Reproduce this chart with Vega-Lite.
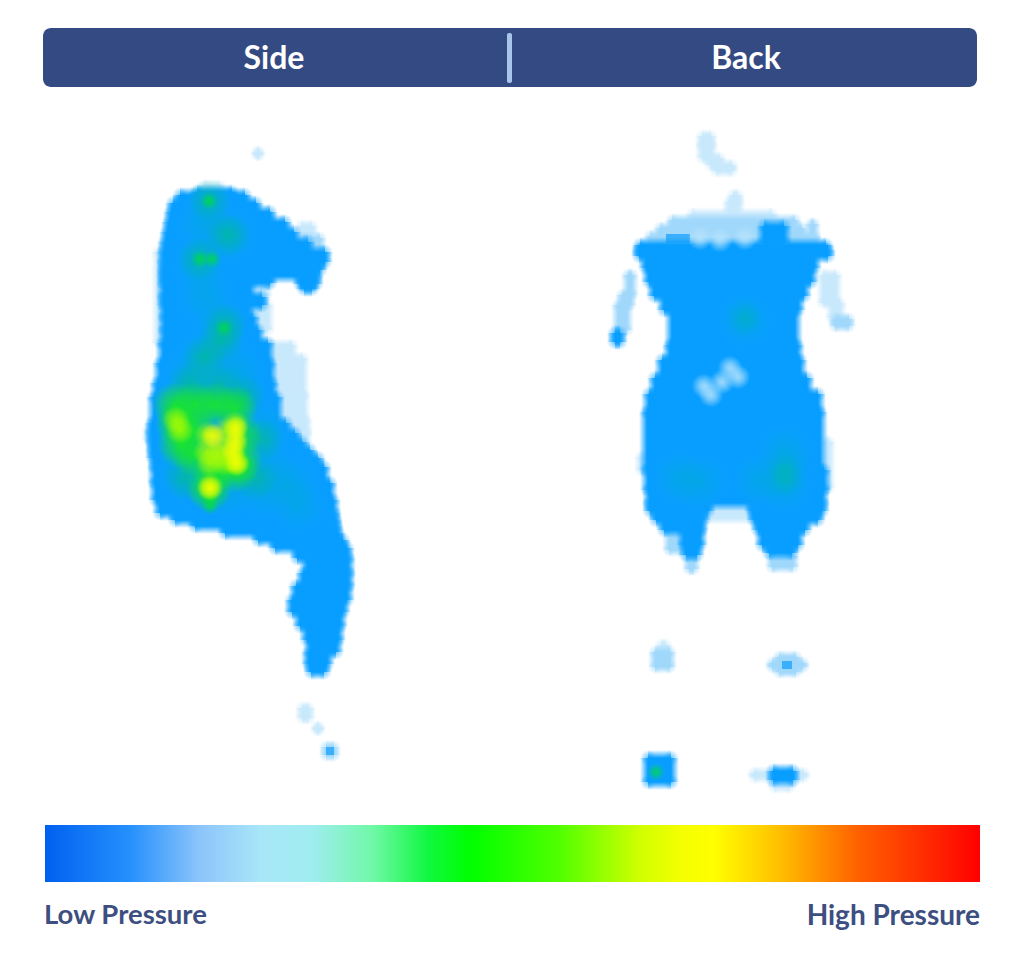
{"$schema":"https://vega.github.io/schema/vega-lite/v6.json","width":1024,"height":969,"padding":0,"autosize":{"type":"fit","contains":"padding"},"background":"white","config":{"view":{"stroke":null}},
"datasets":{
"pale":[
{"a":702,"b":711,"y":136,"z":145,"v":1.7},{"a":702,"b":711,"y":145,"z":158,"v":1.7},{"a":710,"b":720,"y":158,"z":165,"v":1.7},{"a":716,"b":732,"y":165,"z":171,"v":1.7},
{"a":733,"b":738,"y":195,"z":202,"v":1.5},{"a":729,"b":738,"y":202,"z":212,"v":1.5},
{"a":692,"b":772,"y":214,"z":220,"v":1.8},{"a":672,"b":795,"y":220,"z":228,"v":2},{"a":660,"b":802,"y":228,"z":236,"v":2},{"a":650,"b":815,"y":236,"z":245,"v":2},
{"a":811,"b":814,"y":224,"z":240,"v":2.2},
{"a":628,"b":632,"y":275,"z":295,"v":2},{"a":622,"b":630,"y":295,"z":305,"v":2},{"a":618,"b":627,"y":305,"z":330,"v":2.2},
{"a":823,"b":836,"y":275,"z":303,"v":1.8},{"a":832,"b":840,"y":303,"z":318,"v":1.8},{"a":835,"b":849,"y":319,"z":326,"v":2},
{"a":260,"b":266,"y":285,"z":296,"v":1.8},{"a":252,"b":268,"y":305,"z":330,"v":1.7},{"a":270,"b":292,"y":345,"z":358,"v":1.6},{"a":270,"b":303,"y":358,"z":395,"v":1.6},{"a":277,"b":304,"y":395,"z":420,"v":1.6},{"a":280,"b":306,"y":420,"z":432,"v":1.6},{"a":287,"b":306,"y":432,"z":443,"v":1.5},
{"a":303,"b":320,"y":238,"z":250,"v":2.2},{"a":148,"b":150,"y":430,"z":440,"v":1.6},{"a":158,"b":161,"y":252,"z":343,"v":1.5},
{"a":302,"b":309,"y":708,"z":718,"v":1.4},{"a":317,"b":319,"y":727,"z":730,"v":1.4},{"a":257,"b":259,"y":152,"z":155,"v":1.4},{"a":204,"b":220,"y":186,"z":190,"v":1.8},
{"a":641,"b":643,"y":457,"z":470,"v":1.5},{"a":826,"b":829,"y":442,"z":488,"v":1.8},{"a":708,"b":752,"y":507,"z":518,"v":1.8},
{"a":669,"b":682,"y":527,"z":550,"v":2},{"a":655,"b":670,"y":652,"z":667,"v":2},{"a":661,"b":666,"y":645,"z":652,"v":1.8},
{"a":779,"b":796,"y":657,"z":672,"v":2},{"a":772,"b":803,"y":663,"z":667,"v":2},{"a":754,"b":804,"y":773,"z":777,"v":1.8},{"a":774,"b":790,"y":782,"z":787,"v":1.8},
{"a":689,"b":694,"y":558,"z":569,"v":2},{"a":772,"b":793,"y":556,"z":567,"v":2},
{"a":666,"b":690,"y":234,"z":243,"v":3},{"a":782,"b":792,"y":661,"z":669,"v":3},{"a":326,"b":334,"y":747,"z":755,"v":3},{"a":301,"b":312,"y":226,"z":234,"v":1.8}
],
"core":[
{"a":197,"b":232,"y":192,"z":195},{"a":180,"b":245,"y":195,"z":203},{"a":173,"b":256,"y":203,"z":212},{"a":171,"b":270,"y":212,"z":222},{"a":169,"b":285,"y":222,"z":232},{"a":167,"b":294,"y":232,"z":242},{"a":165,"b":308,"y":242,"z":252},{"a":164,"b":325,"y":252,"z":262},{"a":164,"b":320,"y":262,"z":270},{"a":164,"b":315,"y":270,"z":276},{"a":164,"b":270,"y":276,"z":283},{"a":300,"b":316,"y":276,"z":284},{"a":164,"b":250,"y":283,"z":297},{"a":304,"b":312,"y":284,"z":289},{"a":164,"b":262,"y":297,"z":305},{"a":165,"b":248,"y":305,"z":317},{"a":165,"b":253,"y":317,"z":330},{"a":165,"b":258,"y":330,"z":343},{"a":163,"b":268,"y":343,"z":363},{"a":160,"b":270,"y":363,"z":383},{"a":157,"b":272,"y":383,"z":397},{"a":154,"b":277,"y":397,"z":423},{"a":152,"b":286,"y":423,"z":433},{"a":152,"b":295,"y":433,"z":442},{"a":153,"b":302,"y":442,"z":450},{"a":153,"b":310,"y":450,"z":458},{"a":155,"b":318,"y":458,"z":467},{"a":155,"b":324,"y":467,"z":483},{"a":156,"b":330,"y":483,"z":500},{"a":160,"b":333,"y":500,"z":513},{"a":175,"b":334,"y":513,"z":520},{"a":195,"b":335,"y":520,"z":526},{"a":225,"b":336,"y":526,"z":533},{"a":258,"b":338,"y":533,"z":540},{"a":275,"b":343,"y":540,"z":548},{"a":297,"b":347,"y":548,"z":558},{"a":307,"b":348,"y":558,"z":573},{"a":303,"b":348,"y":573,"z":586},{"a":296,"b":347,"y":586,"z":600},{"a":292,"b":343,"y":600,"z":612},{"a":300,"b":340,"y":612,"z":626},{"a":307,"b":338,"y":626,"z":640},{"a":311,"b":336,"y":640,"z":652},{"a":309,"b":327,"y":652,"z":664},{"a":311,"b":324,"y":664,"z":672},
{"a":764,"b":784,"y":226,"z":243},
{"a":640,"b":826,"y":245,"z":250},{"a":639,"b":828,"y":250,"z":256},{"a":646,"b":814,"y":256,"z":268},{"a":649,"b":811,"y":268,"z":282},{"a":654,"b":804,"y":282,"z":296},{"a":664,"b":798,"y":296,"z":310},{"a":672,"b":795,"y":310,"z":345},{"a":670,"b":797,"y":345,"z":360},{"a":662,"b":800,"y":360,"z":378},{"a":655,"b":807,"y":378,"z":394},{"a":649,"b":818,"y":394,"z":412},{"a":647,"b":820,"y":412,"z":470},{"a":648,"b":824,"y":470,"z":490},{"a":650,"b":822,"y":490,"z":503},{"a":650,"b":708,"y":503,"z":511},{"a":752,"b":822,"y":503,"z":511},{"a":656,"b":703,"y":511,"z":520},{"a":754,"b":818,"y":511,"z":520},{"a":664,"b":701,"y":520,"z":530},{"a":758,"b":805,"y":520,"z":530},{"a":684,"b":700,"y":530,"z":545},{"a":762,"b":798,"y":530,"z":545},{"a":686,"b":697,"y":545,"z":555},{"a":769,"b":792,"y":545,"z":553},
{"a":615,"b":620,"y":333,"z":342},{"a":648,"b":671,"y":758,"z":782},{"a":773,"b":793,"y":771,"z":780}
],
"blobs":[
{"x":205,"y":225,"l":1},{"x":230,"y":235,"l":1},{"x":200,"y":265,"l":1},{"x":205,"y":295,"l":1},{"x":220,"y":325,"l":1},{"x":205,"y":355,"l":1},{"x":190,"y":375,"l":1},{"x":235,"y":370,"l":1},{"x":262,"y":430,"l":1},{"x":270,"y":470,"l":1},{"x":290,"y":485,"l":1},{"x":265,"y":490,"l":1},{"x":298,"y":505,"l":1},{"x":230,"y":490,"l":1},{"x":195,"y":480,"l":1},{"x":185,"y":465,"l":1},{"x":200,"y":385,"l":1},{"x":240,"y":392,"l":1},{"x":745,"y":320,"l":1},{"x":785,"y":485,"l":1},{"x":785,"y":452,"l":1},{"x":785,"y":470,"l":1},{"x":700,"y":482,"l":1},{"x":680,"y":478,"l":1},{"x":760,"y":480,"l":1},
{"x":209,"y":201,"l":2},{"x":200,"y":259,"l":2},{"x":228,"y":235,"l":2},{"x":225,"y":325,"l":2},{"x":222,"y":340,"l":2},{"x":205,"y":357,"l":2},{"x":190,"y":385,"l":2},{"x":220,"y":385,"l":2},{"x":243,"y":397,"l":2},{"x":185,"y":478,"l":2},{"x":255,"y":478,"l":2},{"x":210,"y":492,"l":2},{"x":178,"y":420,"l":2},{"x":262,"y":440,"l":2},
{"x":209,"y":201,"l":3},{"x":200,"y":259,"l":3},{"x":212,"y":259,"l":3},{"x":224,"y":328,"l":3},{"x":656,"y":772,"l":3},{"x":210,"y":498,"l":3},{"x":210,"y":506,"l":3},{"x":745,"y":318,"l":8},{"x":785,"y":470,"l":8},{"x":785,"y":480,"l":8},
{"x":175,"y":405,"l":4},{"x":195,"y":405,"l":4},{"x":215,"y":405,"l":4},{"x":235,"y":408,"l":4},{"x":178,"y":425,"l":4},{"x":195,"y":430,"l":4},{"x":240,"y":435,"l":4},{"x":240,"y":460,"l":4},{"x":195,"y":455,"l":4},{"x":215,"y":470,"l":4},{"x":235,"y":470,"l":4},{"x":209,"y":488,"l":4},{"x":180,"y":445,"l":4},
{"x":176,"y":420,"l":5},{"x":180,"y":430,"l":5},{"x":208,"y":435,"l":5},{"x":225,"y":432,"l":5},{"x":235,"y":425,"l":5},{"x":207,"y":452,"l":5},{"x":210,"y":463,"l":5},{"x":225,"y":462,"l":5},{"x":236,"y":462,"l":5},{"x":234,"y":446,"l":5},{"x":220,"y":447,"l":5},{"x":218,"y":455,"l":5},{"x":210,"y":487,"l":5},
{"x":236,"y":428,"l":6},{"x":236,"y":440,"l":6},{"x":233,"y":452,"l":6},{"x":237,"y":464,"l":6},{"x":213,"y":436,"l":6},{"x":210,"y":488,"l":6},
{"x":704,"y":386,"l":7},{"x":722,"y":382,"l":7},{"x":738,"y":377,"l":7},{"x":730,"y":368,"l":7},{"x":711,"y":395,"l":7},{"x":700,"y":238,"l":7},{"x":720,"y":240,"l":7},{"x":745,"y":238,"l":7}
],
"bar":[{"a":43,"b":977,"y":28,"z":87}],
"sep":[{"a":507,"b":512,"y":33,"z":83}],
"grad":[{"a":45,"b":980,"y":825,"z":882}],
"head":[{"a":274,"y":59,"t":"Side"},{"a":746,"y":59,"t":"Back"}],
"low":[{"a":44,"y":916,"t":"Low Pressure"}],
"high":[{"a":980,"y":917,"t":"High Pressure"}]
},
"layer":[
{"data":{"name":"bar"},"mark":{"type":"rect","color":"#344a82","cornerRadius":8},"encoding":{"x":{"field":"a","type":"quantitative","axis":null,"scale":{"domain":[0,1024],"range":[0,1024],"nice":false,"zero":false}},"x2":{"field":"b"},"y":{"field":"y","type":"quantitative","axis":null,"scale":{"domain":[0,969],"range":[0,969],"nice":false,"zero":false}},"y2":{"field":"z"}}},
{"data":{"name":"sep"},"mark":{"type":"rect","color":"#a9c6ea","cornerRadius":2},"encoding":{"x":{"field":"a","type":"quantitative"},"x2":{"field":"b"},"y":{"field":"y","type":"quantitative"},"y2":{"field":"z"}}},
{"data":{"name":"grad"},"mark":{"type":"rect","color":{"gradient":"linear","x1":0,"x2":1,"y1":0,"y2":0,"stops":[{"offset":0,"color":"#0060f0"},{"offset":0.09,"color":"#2490fc"},{"offset":0.165,"color":"#8cc4fb"},{"offset":0.23,"color":"#a8e6f8"},{"offset":0.285,"color":"#a0ecf0"},{"offset":0.35,"color":"#70f8a8"},{"offset":0.41,"color":"#10f840"},{"offset":0.455,"color":"#00ff00"},{"offset":0.55,"color":"#50ff00"},{"offset":0.636,"color":"#d0ff00"},{"offset":0.68,"color":"#f4ff00"},{"offset":0.715,"color":"#ffff00"},{"offset":0.785,"color":"#ffc000"},{"offset":0.87,"color":"#ff6000"},{"offset":1,"color":"#ff0000"}]}},"encoding":{"x":{"field":"a","type":"quantitative"},"x2":{"field":"b"},"y":{"field":"y","type":"quantitative"},"y2":{"field":"z"}}},

{"data":{"name":"pale"},"transform":[{"filter":"datum.v<1.9"},{"fold":["a","b"],"as":["k","px"]},{"fold":["y","z"],"as":["k2","py"]}],"mark":{"type":"circle","size":201,"opacity":1,"fill":{"gradient":"radial","x1":0.5,"y1":0.5,"r1":0,"x2":0.5,"y2":0.5,"r2":0.5,"stops":[{"offset":0,"color":"rgba(200,232,252,0.7)"},{"offset":1,"color":"rgba(200,232,252,0)"}]}},"encoding":{"x":{"field":"px","type":"quantitative"},"y":{"field":"py","type":"quantitative"}}},
{"data":{"name":"pale"},"transform":[{"filter":"datum.v<1.9"}],"mark":{"type":"rect","yOffset":-7,"y2Offset":0,"color":{"gradient":"linear","x1":0,"y1":0,"x2":0,"y2":1,"stops":[{"offset":0,"color":"rgba(200,232,252,0)"},{"offset":1,"color":"rgba(200,232,252,1)"}]}},"encoding":{"x":{"field":"a","type":"quantitative"},"x2":{"field":"b"},"y":{"field":"y","type":"quantitative"},"y2":{"field":"y"}}},
{"data":{"name":"pale"},"transform":[{"filter":"datum.v<1.9"}],"mark":{"type":"rect","yOffset":0,"y2Offset":7,"color":{"gradient":"linear","x1":0,"y1":0,"x2":0,"y2":1,"stops":[{"offset":0,"color":"rgba(200,232,252,1)"},{"offset":1,"color":"rgba(200,232,252,0)"}]}},"encoding":{"x":{"field":"a","type":"quantitative"},"x2":{"field":"b"},"y":{"field":"z","type":"quantitative"},"y2":{"field":"z"}}},
{"data":{"name":"pale"},"transform":[{"filter":"datum.v<1.9"}],"mark":{"type":"rect","xOffset":-7,"x2Offset":0,"color":{"gradient":"linear","x1":0,"y1":0,"x2":1,"y2":0,"stops":[{"offset":0,"color":"rgba(200,232,252,0)"},{"offset":1,"color":"rgba(200,232,252,1)"}]}},"encoding":{"x":{"field":"a","type":"quantitative"},"x2":{"field":"a"},"y":{"field":"y","type":"quantitative"},"y2":{"field":"z"}}},
{"data":{"name":"pale"},"transform":[{"filter":"datum.v<1.9"}],"mark":{"type":"rect","xOffset":0,"x2Offset":7,"color":{"gradient":"linear","x1":0,"y1":0,"x2":1,"y2":0,"stops":[{"offset":0,"color":"rgba(200,232,252,1)"},{"offset":1,"color":"rgba(200,232,252,0)"}]}},"encoding":{"x":{"field":"b","type":"quantitative"},"x2":{"field":"b"},"y":{"field":"y","type":"quantitative"},"y2":{"field":"z"}}},
{"data":{"name":"pale"},"transform":[{"filter":"datum.v<1.9"}],"mark":{"type":"rect","color":"#c8e8fc"},"encoding":{"x":{"field":"a","type":"quantitative"},"x2":{"field":"b"},"y":{"field":"y","type":"quantitative"},"y2":{"field":"z"}}},

{"data":{"name":"pale"},"transform":[{"filter":"datum.v>=1.9"},{"fold":["a","b"],"as":["k","px"]},{"fold":["y","z"],"as":["k2","py"]}],"mark":{"type":"circle","size":201,"opacity":1,"fill":{"gradient":"radial","x1":0.5,"y1":0.5,"r1":0,"x2":0.5,"y2":0.5,"r2":0.5,"stops":[{"offset":0,"color":"rgba(160,216,251,0.7)"},{"offset":1,"color":"rgba(160,216,251,0)"}]}},"encoding":{"x":{"field":"px","type":"quantitative"},"y":{"field":"py","type":"quantitative"}}},
{"data":{"name":"pale"},"transform":[{"filter":"datum.v>=1.9"}],"mark":{"type":"rect","yOffset":-7,"y2Offset":0,"color":{"gradient":"linear","x1":0,"y1":0,"x2":0,"y2":1,"stops":[{"offset":0,"color":"rgba(160,216,251,0)"},{"offset":1,"color":"rgba(160,216,251,1)"}]}},"encoding":{"x":{"field":"a","type":"quantitative"},"x2":{"field":"b"},"y":{"field":"y","type":"quantitative"},"y2":{"field":"y"}}},
{"data":{"name":"pale"},"transform":[{"filter":"datum.v>=1.9"}],"mark":{"type":"rect","yOffset":0,"y2Offset":7,"color":{"gradient":"linear","x1":0,"y1":0,"x2":0,"y2":1,"stops":[{"offset":0,"color":"rgba(160,216,251,1)"},{"offset":1,"color":"rgba(160,216,251,0)"}]}},"encoding":{"x":{"field":"a","type":"quantitative"},"x2":{"field":"b"},"y":{"field":"z","type":"quantitative"},"y2":{"field":"z"}}},
{"data":{"name":"pale"},"transform":[{"filter":"datum.v>=1.9"}],"mark":{"type":"rect","xOffset":-7,"x2Offset":0,"color":{"gradient":"linear","x1":0,"y1":0,"x2":1,"y2":0,"stops":[{"offset":0,"color":"rgba(160,216,251,0)"},{"offset":1,"color":"rgba(160,216,251,1)"}]}},"encoding":{"x":{"field":"a","type":"quantitative"},"x2":{"field":"a"},"y":{"field":"y","type":"quantitative"},"y2":{"field":"z"}}},
{"data":{"name":"pale"},"transform":[{"filter":"datum.v>=1.9"}],"mark":{"type":"rect","xOffset":0,"x2Offset":7,"color":{"gradient":"linear","x1":0,"y1":0,"x2":1,"y2":0,"stops":[{"offset":0,"color":"rgba(160,216,251,1)"},{"offset":1,"color":"rgba(160,216,251,0)"}]}},"encoding":{"x":{"field":"b","type":"quantitative"},"x2":{"field":"b"},"y":{"field":"y","type":"quantitative"},"y2":{"field":"z"}}},
{"data":{"name":"pale"},"transform":[{"filter":"datum.v>=1.9 && datum.v<2.8"}],"mark":{"type":"rect","color":"#a0d8fb"},"encoding":{"x":{"field":"a","type":"quantitative"},"x2":{"field":"b"},"y":{"field":"y","type":"quantitative"},"y2":{"field":"z"}}},
{"data":{"name":"pale"},"transform":[{"filter":"datum.v>=2.8"}],"mark":{"type":"rect","color":"#3cafFC"},"encoding":{"x":{"field":"a","type":"quantitative"},"x2":{"field":"b"},"y":{"field":"y","type":"quantitative"},"y2":{"field":"z"}}},

{"data":{"name":"core"},"transform":[{"fold":["a","b"],"as":["k","px"]},{"fold":["y","z"],"as":["k2","py"]}],"mark":{"type":"circle","size":254,"opacity":1,"fill":{"gradient":"radial","x1":0.5,"y1":0.5,"r1":0,"x2":0.5,"y2":0.5,"r2":0.5,"stops":[{"offset":0,"color":"rgba(8,158,255,0.6)"},{"offset":1,"color":"rgba(8,158,255,0)"}]}},"encoding":{"x":{"field":"px","type":"quantitative"},"y":{"field":"py","type":"quantitative"}}},
{"data":{"name":"core"},"mark":{"type":"rect","yOffset":-8,"y2Offset":0,"color":{"gradient":"linear","x1":0,"y1":0,"x2":0,"y2":1,"stops":[{"offset":0,"color":"rgba(8,158,255,0)"},{"offset":1,"color":"rgba(8,158,255,1)"}]}},"encoding":{"x":{"field":"a","type":"quantitative"},"x2":{"field":"b"},"y":{"field":"y","type":"quantitative"},"y2":{"field":"y"}}},
{"data":{"name":"core"},"mark":{"type":"rect","yOffset":0,"y2Offset":8,"color":{"gradient":"linear","x1":0,"y1":0,"x2":0,"y2":1,"stops":[{"offset":0,"color":"rgba(8,158,255,1)"},{"offset":1,"color":"rgba(8,158,255,0)"}]}},"encoding":{"x":{"field":"a","type":"quantitative"},"x2":{"field":"b"},"y":{"field":"z","type":"quantitative"},"y2":{"field":"z"}}},
{"data":{"name":"core"},"mark":{"type":"rect","xOffset":-8,"x2Offset":0,"color":{"gradient":"linear","x1":0,"y1":0,"x2":1,"y2":0,"stops":[{"offset":0,"color":"rgba(8,158,255,0)"},{"offset":1,"color":"rgba(8,158,255,1)"}]}},"encoding":{"x":{"field":"a","type":"quantitative"},"x2":{"field":"a"},"y":{"field":"y","type":"quantitative"},"y2":{"field":"z"}}},
{"data":{"name":"core"},"mark":{"type":"rect","xOffset":0,"x2Offset":8,"color":{"gradient":"linear","x1":0,"y1":0,"x2":1,"y2":0,"stops":[{"offset":0,"color":"rgba(8,158,255,1)"},{"offset":1,"color":"rgba(8,158,255,0)"}]}},"encoding":{"x":{"field":"b","type":"quantitative"},"x2":{"field":"b"},"y":{"field":"y","type":"quantitative"},"y2":{"field":"z"}}},
{"data":{"name":"core"},"mark":{"type":"rect","color":"#089eff"},"encoding":{"x":{"field":"a","type":"quantitative"},"x2":{"field":"b"},"y":{"field":"y","type":"quantitative"},"y2":{"field":"z"}}},

{"data":{"name":"blobs"},"transform":[{"filter":"datum.l==1"}],"mark":{"type":"circle","size":2827,"opacity":1,"fill":{"gradient":"radial","x1":0.5,"y1":0.5,"r1":0,"x2":0.5,"y2":0.5,"r2":0.5,"stops":[{"offset":0,"color":"rgba(0,176,205,0.4)"},{"offset":1,"color":"rgba(0,176,205,0)"}]}},"encoding":{"x":{"field":"x","type":"quantitative"},"y":{"field":"y","type":"quantitative"}}},
{"data":{"name":"blobs"},"transform":[{"filter":"datum.l==8"}],"mark":{"type":"circle","size":1257,"opacity":1,"fill":{"gradient":"radial","x1":0.5,"y1":0.5,"r1":0,"x2":0.5,"y2":0.5,"r2":0.5,"stops":[{"offset":0,"color":"rgba(0,186,160,0.4)"},{"offset":1,"color":"rgba(0,186,160,0)"}]}},"encoding":{"x":{"field":"x","type":"quantitative"},"y":{"field":"y","type":"quantitative"}}},
{"data":{"name":"blobs"},"transform":[{"filter":"datum.l==2"}],"mark":{"type":"circle","size":1963,"opacity":1,"fill":{"gradient":"radial","x1":0.5,"y1":0.5,"r1":0,"x2":0.5,"y2":0.5,"r2":0.5,"stops":[{"offset":0,"color":"rgba(0,190,140,0.65)"},{"offset":1,"color":"rgba(0,190,140,0)"}]}},"encoding":{"x":{"field":"x","type":"quantitative"},"y":{"field":"y","type":"quantitative"}}},
{"data":{"name":"blobs"},"transform":[{"filter":"datum.l==3"}],"mark":{"type":"circle","size":314,"opacity":1,"fill":{"gradient":"radial","x1":0.5,"y1":0.5,"r1":0,"x2":0.5,"y2":0.5,"r2":0.5,"stops":[{"offset":0,"color":"rgba(0,215,80,0.9)"},{"offset":1,"color":"rgba(0,215,80,0)"}]}},"encoding":{"x":{"field":"x","type":"quantitative"},"y":{"field":"y","type":"quantitative"}}},
{"data":{"name":"blobs"},"transform":[{"filter":"datum.l==4"}],"mark":{"type":"circle","size":2124,"opacity":1,"fill":{"gradient":"radial","x1":0.5,"y1":0.5,"r1":0,"x2":0.5,"y2":0.5,"r2":0.5,"stops":[{"offset":0,"color":"rgba(25,235,25,0.85)"},{"offset":0.5,"color":"rgba(25,235,25,0.5)"},{"offset":1,"color":"rgba(25,235,25,0)"}]}},"encoding":{"x":{"field":"x","type":"quantitative"},"y":{"field":"y","type":"quantitative"}}},
{"data":{"name":"blobs"},"transform":[{"filter":"datum.l==5"}],"mark":{"type":"circle","size":804,"opacity":1,"fill":{"gradient":"radial","x1":0.5,"y1":0.5,"r1":0,"x2":0.5,"y2":0.5,"r2":0.5,"stops":[{"offset":0,"color":"rgba(175,252,0,0.8)"},{"offset":0.5,"color":"rgba(175,252,0,0.5)"},{"offset":1,"color":"rgba(175,252,0,0)"}]}},"encoding":{"x":{"field":"x","type":"quantitative"},"y":{"field":"y","type":"quantitative"}}},
{"data":{"name":"blobs"},"transform":[{"filter":"datum.l==6"}],"mark":{"type":"circle","size":616,"opacity":1,"fill":{"gradient":"radial","x1":0.5,"y1":0.5,"r1":0,"x2":0.5,"y2":0.5,"r2":0.5,"stops":[{"offset":0,"color":"rgba(255,255,0,0.85)"},{"offset":0.55,"color":"rgba(255,255,0,0.5)"},{"offset":1,"color":"rgba(255,255,0,0)"}]}},"encoding":{"x":{"field":"x","type":"quantitative"},"y":{"field":"y","type":"quantitative"}}},
{"data":{"name":"blobs"},"transform":[{"filter":"datum.l==7"}],"mark":{"type":"circle","size":616,"opacity":1,"fill":{"gradient":"radial","x1":0.5,"y1":0.5,"r1":0,"x2":0.5,"y2":0.5,"r2":0.5,"stops":[{"offset":0,"color":"rgba(185,228,252,0.85)"},{"offset":0.4,"color":"rgba(185,228,252,0.6)"},{"offset":1,"color":"rgba(185,228,252,0)"}]}},"encoding":{"x":{"field":"x","type":"quantitative"},"y":{"field":"y","type":"quantitative"}}},

{"data":{"name":"head"},"mark":{"type":"text","color":"white","font":"Lato","fontSize":32,"fontWeight":700,"align":"center","baseline":"middle"},"encoding":{"x":{"field":"a","type":"quantitative"},"y":{"field":"y","type":"quantitative"},"text":{"field":"t"}}},
{"data":{"name":"low"},"mark":{"type":"text","color":"#3d4f80","font":"Lato","fontSize":27.5,"fontWeight":700,"align":"left","baseline":"middle"},"encoding":{"x":{"field":"a","type":"quantitative"},"y":{"field":"y","type":"quantitative"},"text":{"field":"t"}}},
{"data":{"name":"high"},"mark":{"type":"text","color":"#3d4f80","font":"Lato","fontSize":28,"fontWeight":700,"align":"right","baseline":"middle"},"encoding":{"x":{"field":"a","type":"quantitative"},"y":{"field":"y","type":"quantitative"},"text":{"field":"t"}}}
]}
